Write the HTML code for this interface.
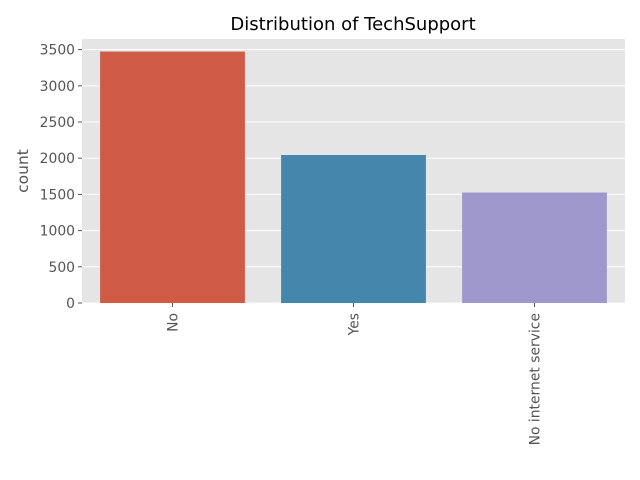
<!DOCTYPE html>
<html><head><meta charset="utf-8"><style>
html,body{margin:0;padding:0;background:#fff}
svg{display:block;font-family:"DejaVu Sans","Liberation Sans",sans-serif}
</style></head><body>
<svg id="chart" width="640" height="480">
<rect x="82" y="39" width="543" height="264" fill="#e5e5e5"/>
<g id="grid"></g><g id="bars"></g><g id="yticks"></g><g id="xticks"></g>
<text x="353" y="30" text-anchor="middle" font-size="18" fill="#000">Distribution of TechSupport</text>
<text transform="translate(28,171) rotate(-90)" text-anchor="middle" font-size="15.5" fill="#555">count</text>
</svg>
<script>
const categories = ["No","Yes","No internet service"];
const counts = [3473, 2044, 1526];
const yTickValues = [0,500,1000,1500,2000,2500,3000,3500];
const colors = ["#cf5b46","#4586ad","#9f98cc"];
const NS="http://www.w3.org/2000/svg";
const L=82,R=625,T=39,B=303;
const yMax=Math.max(...counts)*1.05;
const y=v=>B-(v/yMax)*(B-T);
const band=(R-L)/categories.length;
const xc=i=>L+band*(i+0.5);
function mk(tag,attrs,parent){const e=document.createElementNS(NS,tag);for(const k in attrs)e.setAttribute(k,attrs[k]);parent.appendChild(e);return e;}
const grid=document.getElementById('grid'),bars=document.getElementById('bars'),yt=document.getElementById('yticks'),xt=document.getElementById('xticks');
yTickValues.forEach(v=>{
  const g=mk('line',{x1:L,x2:R,y1:y(v),y2:y(v),stroke:'#fff','stroke-width':1},grid);
  
  
  const t=mk('line',{x1:L-4,x2:L,y1:y(v),y2:y(v),stroke:'#555'},yt);
  
  
  const l=mk('text',{x:L-7,y:y(v)+5,'text-anchor':'end','font-size':13.9,fill:'#555'},yt);
  l.textContent=v;
  
  
});
categories.forEach((c,i)=>{
  const bw=band*0.8;
  const r=mk('rect',{x:xc(i)-bw/2,y:y(counts[i]),width:bw,height:B-y(counts[i]),fill:colors[i]},bars);
  
  
  const t=mk('line',{x1:xc(i),x2:xc(i),y1:B,y2:B+4,stroke:'#555'},xt);
  
  
  const l=mk('text',{transform:`translate(${xc(i)+5},${B+10}) rotate(-90)`,'text-anchor':'end','font-size':13.9,fill:'#555'},xt);
  l.textContent=c;
  
  
});
</script>
</body></html>
